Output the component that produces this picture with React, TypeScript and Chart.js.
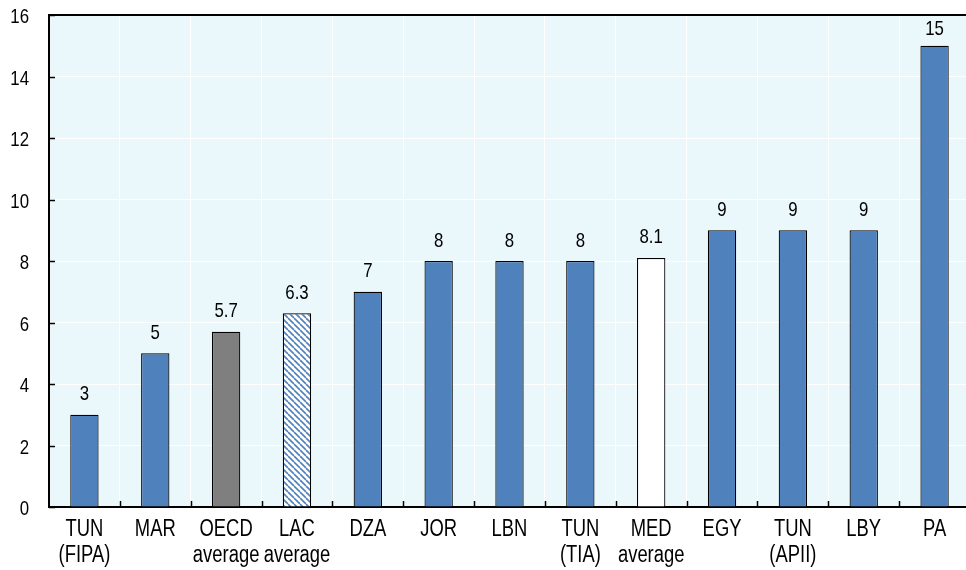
import { useEffect, useRef } from "react";
import { Chart, registerables } from "chart.js";

Chart.register(...registerables);

// Categories (multi-line tick labels), values and the printed value labels
const categories: string[][] = [
  ["TUN", "(FIPA)"],
  ["MAR"],
  ["OECD", "average"],
  ["LAC", "average"],
  ["DZA"],
  ["JOR"],
  ["LBN"],
  ["TUN", "(TIA)"],
  ["MED", "average"],
  ["EGY"],
  ["TUN", "(APII)"],
  ["LBY"],
  ["PA"],
];
const values: number[] = [3, 5, 5.7, 6.3, 7, 8, 8, 8, 8.1, 9, 9, 9, 15];
const valueLabels: string[] = ["3", "5", "5.7", "6.3", "7", "8", "8", "8", "8.1", "9", "9", "9", "15"];
// Kind of each bar: country, OECD average, LAC average, MED average
const barKinds: string[] = [
  "country", "country", "oecd", "lac", "country", "country", "country",
  "country", "med", "country", "country", "country", "country",
];
const yTicks: number[] = [0, 2, 4, 6, 8, 10, 12, 14, 16];

const FONT = '"Liberation Sans", Arial, sans-serif';
const BLUE = "#4f81bd";
const GREY = "#7f7f7f";
const PLOT_BG = "#eaf8fb";
// Horizontal squeeze that gives the narrow-sans look of the labels
const NARROW = 0.8;

function makeHatch(): CanvasPattern | string {
  const s = 6;
  const c = document.createElement("canvas");
  c.width = s;
  c.height = s;
  const ctx = c.getContext("2d");
  if (!ctx) return "#ffffff";
  ctx.fillStyle = "#ffffff";
  ctx.fillRect(0, 0, s, s);
  ctx.strokeStyle = BLUE;
  ctx.lineWidth = 1.6;
  for (const off of [-s, 0, s]) {
    ctx.beginPath();
    ctx.moveTo(off, 0);
    ctx.lineTo(off + s, s);
    ctx.stroke();
  }
  const p = ctx.createPattern(c, "repeat");
  return p ?? "#ffffff";
}

function narrowText(ctx: CanvasRenderingContext2D, text: string, x: number, y: number, align: CanvasTextAlign, size: number) {
  ctx.save();
  ctx.translate(x, y);
  ctx.scale(NARROW, 1);
  ctx.font = `${size}px ${FONT}`;
  ctx.textAlign = align;
  ctx.textBaseline = "alphabetic";
  ctx.fillStyle = "#000000";
  ctx.fillText(text, 0, 0);
  ctx.restore();
}

const plotBackground = {
  id: "plotBackground",
  beforeDraw(chart: any) {
    const { ctx, chartArea } = chart;
    ctx.save();
    ctx.fillStyle = PLOT_BG;
    ctx.fillRect(chartArea.left, chartArea.top, chartArea.right - chartArea.left, chartArea.bottom - chartArea.top);
    ctx.restore();
  },
};

// Top frame line, inward tick marks and the axis labels of both scales
const frameAndTicks = {
  id: "frameAndTicks",
  afterDraw(chart: any) {
    const { ctx, chartArea, scales } = chart;
    ctx.save();
    ctx.strokeStyle = "#000000";
    ctx.lineWidth = 2;
    ctx.beginPath();
    ctx.moveTo(chartArea.left - 1, chartArea.top);
    ctx.lineTo(chartArea.right, chartArea.top);
    ctx.stroke();

    ctx.lineWidth = 1.5;
    const y = scales.y;
    for (const t of yTicks) {
      const py = Math.round(y.getPixelForValue(t)) + 0.5;
      ctx.beginPath();
      ctx.moveTo(chartArea.left, py);
      ctx.lineTo(chartArea.left + 6, py);
      ctx.stroke();
      narrowText(ctx, String(t), chartArea.left - 20, py + 7.5, "right", 21);
    }
    const x = scales.x;
    for (let i = 1; i < categories.length; i++) {
      const px = Math.round((x.getPixelForValue(i - 1) + x.getPixelForValue(i)) / 2) + 0.5;
      ctx.beginPath();
      ctx.moveTo(px, chartArea.bottom);
      ctx.lineTo(px, chartArea.bottom - 6);
      ctx.stroke();
    }
    categories.forEach((lines, i) => {
      const cx = x.getPixelForValue(i);
      lines.forEach((line, j) => {
        narrowText(ctx, line, cx, chartArea.bottom + 29 + j * 26, "center", 23);
      });
    });
    ctx.restore();
  },
};

const valueLabelPlugin = {
  id: "valueLabels",
  afterDatasetsDraw(chart: any) {
    const { ctx } = chart;
    const meta = chart.getDatasetMeta(0);
    meta.data.forEach((bar: any, i: number) => {
      const base = Math.max(bar.y - 14.5, chart.chartArea.top + 20);
      narrowText(ctx, valueLabels[i], bar.x, base, "center", 21);
    });
  },
};

export default function App() {
  const canvasRef = useRef<HTMLCanvasElement | null>(null);

  useEffect(() => {
    document.body.style.margin = "0";
    const canvas = canvasRef.current;
    if (!canvas) return;
    const hatch = makeHatch();
    const fills = barKinds.map((k) =>
      k === "oecd" ? GREY : k === "lac" ? hatch : k === "med" ? "#ffffff" : BLUE
    );
    const chart = new Chart(canvas, {
      type: "bar",
      data: {
        labels: categories,
        datasets: [
          {
            data: values,
            backgroundColor: fills as any,
            borderColor: "#000000",
            borderWidth: 1.2,
            barPercentage: 0.4,
            categoryPercentage: 1,
          },
        ],
      },
      options: {
        animation: false,
        responsive: false,
        maintainAspectRatio: false,
        layout: { padding: { top: 15, right: 0, bottom: 0, left: 0 } },
        plugins: {
          legend: { display: false },
          tooltip: { enabled: false },
        },
        scales: {
          x: {
            offset: true,
            grid: { color: "#ffffff", lineWidth: 1, offset: true, drawTicks: false },
            border: { display: true, color: "#000000", width: 2 },
            ticks: { display: false, autoSkip: false },
            afterFit(scale: any) {
              scale.height = 63;
            },
          },
          y: {
            min: 0,
            max: 16,
            grid: { color: "#ffffff", lineWidth: 1, drawTicks: false },
            border: { display: true, color: "#000000", width: 2 },
            ticks: { display: false, stepSize: 2 },
            afterFit(scale: any) {
              scale.width = 49;
            },
          },
        },
      },
      plugins: [plotBackground, frameAndTicks, valueLabelPlugin],
    });
    return () => chart.destroy();
  }, []);

  return (
    <div style={{ width: 966, height: 570, overflow: "hidden" }}>
      <canvas ref={canvasRef} width={970} height={570} style={{ display: "block" }} />
    </div>
  );
}
